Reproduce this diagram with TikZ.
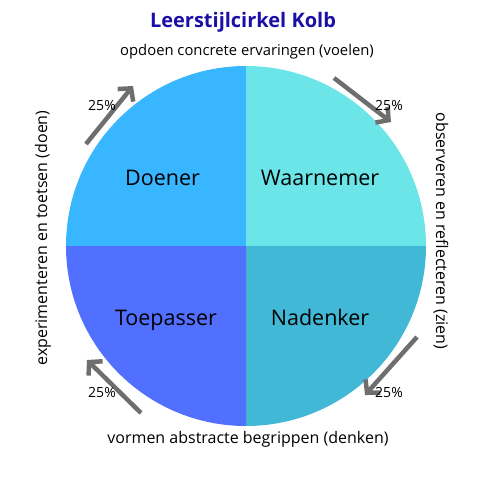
\documentclass[tikz,border=0pt]{standalone}
\usepackage{fontspec}
\setmainfont{Open Sans}
\usetikzlibrary{arrows.meta}
\definecolor{qtl}{HTML}{38B6FF}
\definecolor{qtr}{HTML}{6CE5E8}
\definecolor{qbl}{HTML}{5170FF}
\definecolor{qbr}{HTML}{41B8D5}
\definecolor{ttl}{HTML}{1C0FA8}
\definecolor{arr}{HTML}{6E6E6E}
\tikzset{
  quad/.style={font=\fontsize{21.5}{25}\selectfont, text=black, anchor=base},
  side/.style={font=\fontsize{16}{19}\selectfont, text=black},
  pct/.style={font=\fontsize{14}{16}\selectfont, text=black},
  cyc/.style={draw=arr, line width=4.5pt, -{Straight Barb[length=9pt,width=20pt,line width=4.5pt]}},
}
\begin{document}
\begin{tikzpicture}[x=1pt,y=-1pt]
\useasboundingbox (0,0) rectangle (500,500);
\coordinate (c) at (246,246);
\fill[qtl] (c) -- (66,246) arc[start angle=180,end angle=270,radius=180] -- cycle;
\fill[qtr] (c) -- (246,66) arc[start angle=270,end angle=360,radius=180] -- cycle;
\fill[qbr] (c) -- (426,246) arc[start angle=0,end angle=90,radius=180] -- cycle;
\fill[qbl] (c) -- (246,426) arc[start angle=90,end angle=180,radius=180] -- cycle;
\node[font=\fontsize{20}{24}\selectfont\bfseries, text=ttl] (title) at (243,22) {Leerstijlcirkel Kolb};
\node[side, font=\fontsize{14.8}{18}\selectfont] (top) at (247,52) {opdoen concrete ervaringen (voelen)};
\node[side] (bot) at (248,439) {vormen abstracte begrippen (denken)};
\node[side, rotate=-90] (right) at (441,231) {observeren en reflecteren (zien)};
\node[side, rotate=90] (left) at (43,238) {experimenteren en toetsen (doen)};
\node[quad] (doener) at (162.5,185) {Doener};
\node[quad] (waar) at (320,185) {Waarnemer};
\node[quad] (toep) at (166,325) {Toepasser};
\node[quad] (nad) at (320,325) {Nadenker};
\coordinate (a1s) at (86,144); \coordinate (a1e) at (133,86);
\coordinate (a2s) at (334,78); \coordinate (a2e) at (391,122);
\coordinate (a3s) at (417,337); \coordinate (a3e) at (365,395);
\coordinate (a4s) at (141,413); \coordinate (a4e) at (87,360);
\draw[cyc] (a1s) -- (a1e);
\draw[cyc] (a2s) -- (a2e);
\draw[cyc] (a3s) -- (a3e);
\draw[cyc] (a4s) -- (a4e);
\node[pct] (p1) at (102,105) {25\%};
\node[pct] (p2) at (389,105) {25\%};
\node[pct] (p3) at (389,392) {25\%};
\node[pct] (p4) at (102,392) {25\%};
\end{tikzpicture}
\end{document}
